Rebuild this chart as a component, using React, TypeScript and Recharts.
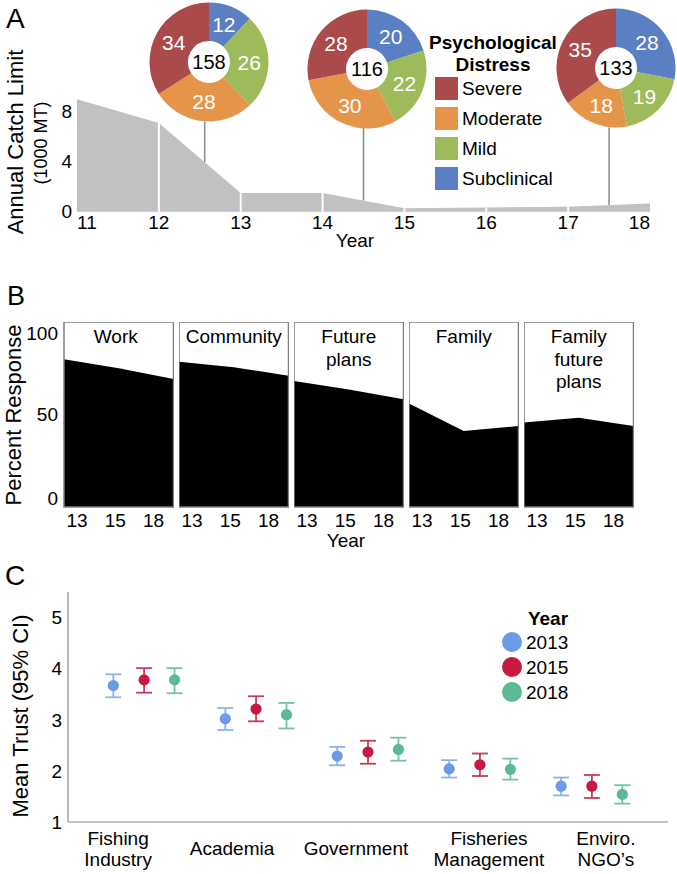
import React from 'react';
import {
  AreaChart, Area, XAxis, YAxis, ReferenceLine, ReferenceArea,
  PieChart, Pie, Cell, Label, ScatterChart, Scatter, ErrorBar,
} from 'recharts';

const FONT = '"Liberation Sans", Arial, Helvetica, sans-serif';

// ---------- Panel A data ----------
const catchYears = [11, 12, 13, 14, 15, 16, 17, 18];
const catchLimit = [9.0, 7.1, 1.5, 1.5, 0.27, 0.33, 0.4, 0.66];
const catchTicks = [0, 4, 8];
const separatorYears = [12, 13, 14, 15, 16, 17];

const distressLevels = ['Subclinical', 'Mild', 'Moderate', 'Severe'];
const distressColors = ['#5B7FC3', '#9DBB5A', '#E5954A', '#AA4A4A'];
const legendOrder = ['Severe', 'Moderate', 'Mild', 'Subclinical'];

const surveyYears = [12.56, 14.5, 17.5];
const surveyTotals = [158, 116, 133];
const survey2013 = [12, 26, 28, 34];
const survey2015 = [20, 22, 30, 28];
const survey2018 = [28, 19, 18, 35];
const surveys = [survey2013, survey2015, survey2018];

// ---------- Panel B data ----------
const responseYears = ['13', '15', '18'];
const responseDomains = ['Work', 'Community', 'Future plans', 'Family', 'Family future plans'];
const responseTitleLines = [['Work'], ['Community'], ['Future', 'plans'], ['Family'], ['Family', 'future', 'plans']];
const workResp = [82.8, 77.5, 71.1];
const communityResp = [81.4, 78.1, 73.1];
const futurePlansResp = [69.9, 64.8, 59.0];
const familyResp = [56.5, 40.2, 43.2];
const familyFutureResp = [45.3, 48.1, 43.2];
const responseSeries = [workResp, communityResp, futurePlansResp, familyResp, familyFutureResp];
const responseTicks = [0, 50, 100];

// ---------- Panel C data ----------
const institutionLines = [['Fishing', 'Industry'], ['Academia'], ['Government'], ['Fisheries', 'Management'], ['Enviro.', 'NGO\u2019s']];
const trustYears = ['2013', '2015', '2018'];
const mean2013 = [3.67, 3.02, 2.29, 2.04, 1.70];
const lo2013 = [3.44, 2.80, 2.11, 1.87, 1.52];
const hi2013 = [3.89, 3.23, 2.47, 2.21, 1.87];
const mean2015 = [3.78, 3.21, 2.37, 2.12, 1.70];
const lo2015 = [3.53, 2.97, 2.14, 1.90, 1.47];
const hi2015 = [4.01, 3.46, 2.59, 2.34, 1.92];
const mean2018 = [3.78, 3.10, 2.42, 2.03, 1.54];
const lo2018 = [3.52, 2.83, 2.20, 1.83, 1.36];
const hi2018 = [4.01, 3.33, 2.65, 2.24, 1.72];
const trustTicks = [1, 2, 3, 4, 5];

// ---------- styling / layout constants ----------
const dotColors = ['#6C9BE6', '#C8193F', '#5BBA94'];
const barColors = ['#8DB0EE', '#C93A58', '#72C4A4'];
const dodge = [-0.275, 0, 0.272];
const labelShift = [-26, -24, -12, 9, 14];
const pieLayout = [{ cx: 209, cy: 62 }, { cx: 367, cy: 68.5 }, { cx: 616, cy: 68 }];
const PIE_R = 59.5;
const A_TOP = 99.2; // plot top (px)
const A_BOTTOM = 211.7; // plot bottom (px)
const A_MAX = 9;
const pxToCatch = (py: number) => (A_MAX * (A_BOTTOM - py)) / (A_BOTTOM - A_TOP);

const interpCatch = (yr: number) => {
  for (let i = 0; i < catchYears.length - 1; i++) {
    if (yr >= catchYears[i] && yr <= catchYears[i + 1]) {
      const t = (yr - catchYears[i]) / (catchYears[i + 1] - catchYears[i]);
      return catchLimit[i] + t * (catchLimit[i + 1] - catchLimit[i]);
    }
  }
  return 0;
};

const catchData = catchYears.map((y, i) => ({ year: y, acl: catchLimit[i] }));

const YearTickA = (p: any) => {
  const v = p.payload.value;
  const anchor = v === catchYears[0] ? 'start' : v === catchYears[catchYears.length - 1] ? 'end' : 'middle';
  return (
    <text x={p.x} y={p.y + 17.6} textAnchor={anchor} fontSize={19} fill="#000" fontFamily={FONT}>{v}</text>
  );
};

const YearTickB = (p: any) => (
  <text x={p.x} y={p.y + 20} textAnchor="middle" fontSize={19} fill="#000" fontFamily={FONT}>{p.payload.value}</text>
);

const InstTick = (p: any) => {
  const i = p.payload.value;
  const lines = institutionLines[i];
  if (!lines) return null;
  const x = p.x + labelShift[i];
  if (lines.length === 1) {
    return <text x={x} y={p.y + 33} textAnchor="middle" fontSize={19} fill="#000" fontFamily={FONT}>{lines[0]}</text>;
  }
  return (
    <text textAnchor="middle" fontSize={19} fill="#000" fontFamily={FONT}>
      <tspan x={x} y={p.y + 23}>{lines[0]}</tspan>
      <tspan x={x} y={p.y + 44}>{lines[1]}</tspan>
    </text>
  );
};

const RAD = Math.PI / 180;
const pieLabel = (props: any) => {
  const { cx, cy, midAngle, innerRadius, outerRadius, value } = props;
  const r = (innerRadius + outerRadius) / 2;
  const x = cx + r * Math.cos(-midAngle * RAD);
  const y = cy + r * Math.sin(-midAngle * RAD);
  return (
    <text x={x} y={y} fill="#fff" fontSize={21} textAnchor="middle" dominantBaseline="central" fontFamily={FONT}>{value}</text>
  );
};

function DistressPie({ idx }: { idx: number }) {
  const { cx, cy } = pieLayout[idx];
  const data = distressLevels.map((name, i) => ({ name, value: surveys[idx][i] }));
  const size = 130;
  return (
    <div style={{ position: 'absolute', left: cx - size / 2, top: cy - size / 2 }}>
      <PieChart width={size} height={size} margin={{ top: 0, right: 0, bottom: 0, left: 0 }}>
        <Pie
          data={data}
          dataKey="value"
          cx="50%"
          cy="50%"
          innerRadius={21}
          outerRadius={PIE_R}
          startAngle={90}
          endAngle={-270}
          stroke="none"
          label={pieLabel}
          labelLine={false}
          isAnimationActive={false}
        >
          {data.map((d, i) => <Cell key={d.name} fill={distressColors[i]} />)}
          <Label value={surveyTotals[idx]} position="center" fill="#000" fontSize={20} fontFamily={FONT} />
        </Pie>
      </PieChart>
    </div>
  );
}

function ResponsePanel({ idx }: { idx: number }) {
  const data = responseYears.map((y, i) => ({ year: y, v: responseSeries[idx][i] }));
  const first = idx === 0;
  const yw = first ? 64 : 0;
  const left = first ? 0 : 64 + idx * 115;
  return (
    <div style={{ position: 'absolute', left, top: 321.7 }}>
      <AreaChart width={yw + 109.5} height={185 + 36} data={data} margin={{ top: 0, right: 0, left: 0, bottom: 0 }}>
        <XAxis
          xAxisId="l"
          dataKey="year"
          padding={{ left: 13, right: 20 }}
          axisLine={false}
          tickLine={false}
          tickSize={0}
          tickMargin={0}
          tick={<YearTickB />}
          height={36}
          interval={0}
        />
        <XAxis xAxisId="a" dataKey="year" hide height={0} />
        <YAxis
          domain={[-5, 105]}
          ticks={responseTicks}
          hide={!first}
          width={64}
          axisLine={false}
          tickLine={false}
          tickSize={0}
          tickMargin={6}
          tick={{ fontSize: 19, fill: '#000', fontFamily: FONT }}
        />
        <Area
          xAxisId="a"
          dataKey="v"
          type="linear"
          baseValue={-5}
          fill="#000"
          fillOpacity={1}
          stroke="none"
          isAnimationActive={false}
        />
        <ReferenceArea
          xAxisId="a"
          x1={responseYears[0]}
          x2={responseYears[responseYears.length - 1]}
          y1={-5}
          y2={105}
          fill="none"
          fillOpacity={0}
          stroke="#7f7f7f"
          strokeWidth={1.5}
        />
      </AreaChart>
    </div>
  );
}

export default function App() {
  const trustSeries = trustYears.map((yr, s) => {
    const means = [mean2013, mean2015, mean2018][s];
    const los = [lo2013, lo2015, lo2018][s];
    const his = [hi2013, hi2015, hi2018][s];
    return {
      name: yr,
      data: means.map((m, i) => ({ x: i + dodge[s], y: m, err: [m - los[i], his[i] - m] })),
    };
  });

  return (
    <div style={{ position: 'absolute', left: 0, top: 0, width: 677, height: 874, background: '#fff', fontFamily: FONT, overflow: 'hidden' }}>
      {/* Panel A area */}
      <div style={{ position: 'absolute', left: 0, top: 90 }}>
        <AreaChart width={677} height={160} data={catchData} margin={{ top: A_TOP - 90, right: 27, left: 0, bottom: 0 }}>
          <XAxis
            dataKey="year"
            type="number"
            domain={[11, 18]}
            ticks={catchYears}
            axisLine={false}
            tickLine={false}
            tickSize={0}
            tickMargin={0}
            tick={<YearTickA />}
            height={160 - (A_TOP - 90) - (A_BOTTOM - A_TOP)}
            interval={0}
          />
          <YAxis
            domain={[0, A_MAX]}
            ticks={catchTicks}
            width={77}
            axisLine={false}
            tickLine={false}
            tickSize={0}
            tickMargin={5}
            tick={{ fontSize: 19, fill: '#000', fontFamily: FONT }}
          />
          <Area dataKey="acl" type="linear" fill="#C1C1C1" fillOpacity={1} stroke="none" isAnimationActive={false} />
          {separatorYears.map((yr) => (
            <ReferenceLine
              key={'s' + yr}
              segment={[{ x: yr, y: 0 }, { x: yr, y: interpCatch(yr) }]}
              stroke="#fff"
              strokeWidth={2}
            />
          ))}
          {surveyYears.map((yr, i) => (
            <ReferenceLine
              key={'c' + yr}
              segment={[{ x: yr, y: interpCatch(yr) }, { x: yr, y: pxToCatch(pieLayout[i].cy + PIE_R) }]}
              stroke="#8a8a8a"
              strokeWidth={1.5}
            />
          ))}
        </AreaChart>
      </div>

      {surveys.map((_, i) => <DistressPie key={i} idx={i} />)}

      {/* Panel B */}
      {responseDomains.map((_, i) => <ResponsePanel key={i} idx={i} />)}

      {/* Panel C */}
      <div style={{ position: 'absolute', left: 0, top: 560 }}>
        <ScatterChart width={677} height={314} margin={{ top: 32, right: 9, left: 0, bottom: 0 }}>
          <XAxis
            type="number"
            dataKey="x"
            domain={[-0.68, 4.68]}
            ticks={[0, 1, 2, 3, 4]}
            interval={0}
            height={52}
            tick={<InstTick />}
            tickLine={false}
            tickSize={0}
            tickMargin={0}
            axisLine={{ stroke: '#8a8a8a', strokeWidth: 1.2 }}
          />
          <YAxis
            type="number"
            dataKey="y"
            domain={[1, 5.5]}
            ticks={trustTicks}
            width={68}
            tickLine={false}
            tickSize={0}
            tickMargin={6}
            axisLine={{ stroke: '#8a8a8a', strokeWidth: 1.2 }}
            tick={{ fontSize: 19, fill: '#000', fontFamily: FONT }}
          />
          {trustSeries.map((s, si) => (
            <Scatter
              key={s.name}
              name={s.name}
              data={s.data}
              fill={dotColors[si]}
              isAnimationActive={false}
              shape={(p: any) => <circle cx={p.cx} cy={p.cy} r={5.6} fill={dotColors[si]} />}
            >
              <ErrorBar dataKey="err" direction="y" width={8} stroke={barColors[si]} strokeWidth={1.8} isAnimationActive={false} />
            </Scatter>
          ))}
        </ScatterChart>
      </div>

      {/* Text overlay */}
      <svg width={677} height={874} style={{ position: 'absolute', left: 0, top: 0, pointerEvents: 'none' }} fontFamily={FONT}>
        <text x={6} y={28} fontSize={28} fill="#000">A</text>
        <text x={7} y={305} fontSize={27} fill="#000">B</text>
        <text x={5} y={585} fontSize={28} fill="#000">C</text>

        <text x={23} y={142} fontSize={22} fill="#000" textAnchor="middle" transform="rotate(-90 23 142)">Annual Catch Limit</text>
        <text x={47} y={143} fontSize={18} fill="#000" textAnchor="middle" transform="rotate(-90 47 143)">(1000 MT)</text>
        <text x={355} y={247} fontSize={19} fill="#000" textAnchor="middle">Year</text>

        <text x={493} y={49} fontSize={19} fontWeight="bold" fill="#000" textAnchor="middle">Psychological</text>
        <text x={493} y={71} fontSize={19} fontWeight="bold" fill="#000" textAnchor="middle">Distress</text>
        {legendOrder.map((name, i) => {
          const ci = distressLevels.indexOf(name);
          const top = 77 + i * 30;
          return (
            <g key={name}>
              <rect x={435} y={top} width={23} height={23} fill={distressColors[ci]} />
              <text x={462} y={top + 18} fontSize={19} fill="#000">{name}</text>
            </g>
          );
        })}

        <text x={20.5} y={415} fontSize={22} fill="#000" textAnchor="middle" transform="rotate(-90 20.5 415)">Percent Response</text>
        {responseTitleLines.map((lines, i) => {
          const cx = 64 + i * 115 + 109.5 / 2 - (i === 0 ? 3 : 0);
          return (
            <text key={i} fontSize={19} fill="#000" textAnchor="middle">
              {lines.map((ln, j) => (
                <tspan key={j} x={cx} y={343 + j * 22.5}>{ln}</tspan>
              ))}
            </text>
          );
        })}
        <text x={346} y={547} fontSize={19} fill="#000" textAnchor="middle">Year</text>

        <text x={28} y={716} fontSize={22} fill="#000" textAnchor="middle" transform="rotate(-90 28 716)">Mean Trust (95% CI)</text>
        <text x={548} y={625} fontSize={19} fontWeight="bold" fill="#000" textAnchor="middle">Year</text>
        {trustYears.map((yr, i) => (
          <g key={yr}>
            <circle cx={512} cy={642 + i * 25} r={10} fill={dotColors[i]} />
            <text x={526} y={642 + i * 25 + 7} fontSize={19} fill="#000">{yr}</text>
          </g>
        ))}
      </svg>
    </div>
  );
}
